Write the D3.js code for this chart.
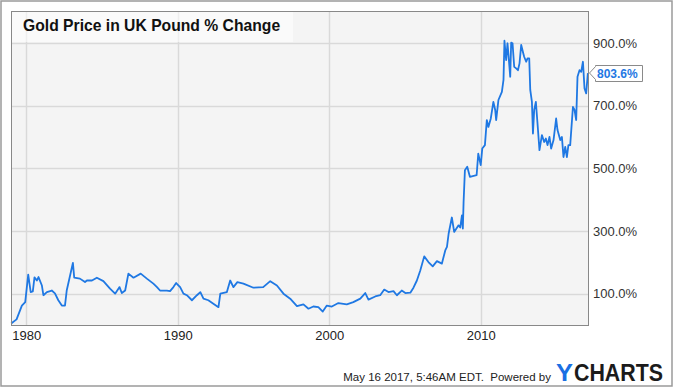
<!DOCTYPE html>
<html>
<head>
<meta charset="utf-8">
<script src="https://cdn.jsdelivr.net/npm/d3@7"></script>
<style>
  body { margin: 0; background: #fff; }
  svg { display: block; font-family: "Liberation Sans", Arial, sans-serif; }
</style>
</head>
<body>
<svg width="674" height="389"></svg>
<script>
// data (% change of gold price in GBP)
var dates = [
  "1979-01-05","1979-05-15","1979-09-20","1979-12-10","1980-02-20","1980-04-20","1980-06-10","1980-07-20",
  "1980-09-15","1980-10-25","1981-01-15","1981-02-20","1981-05-15","1981-09-10","1981-11-25","1982-02-15",
  "1982-05-10","1982-07-25","1982-09-05","1983-02-01","1983-03-05","1983-07-20","1983-11-20","1984-01-05",
  "1984-05-05","1984-09-01","1985-02-05","1985-07-15","1985-11-15","1986-03-01","1986-04-25","1986-07-15",
  "1986-10-01","1987-02-01","1987-07-25","1987-12-20","1988-05-25","1988-08-20","1988-11-01","1989-04-15",
  "1989-07-01","1989-09-20","1989-11-25","1990-03-01","1990-05-20","1990-08-10","1990-12-10","1991-04-10",
  "1991-07-01","1991-09-15","1992-01-10","1992-05-10","1992-09-10","1992-10-25","1993-04-01","1993-06-20",
  "1993-09-05","1993-12-10","1994-05-05","1995-01-01","1995-08-25","1996-02-10","1996-07-20","1996-12-25",
  "1997-06-05","1997-11-15","1998-04-20","1998-08-20","1998-12-15","1999-04-15","1999-07-30","1999-11-05",
  "2000-03-05","2000-08-10","2001-03-01","2001-08-05","2002-01-20","2002-05-20","2002-08-05","2003-01-15",
  "2003-05-15","2003-08-20","2003-11-30","2004-03-30","2004-06-20","2004-10-15","2005-01-10","2005-05-10",
  "2005-07-25","2005-10-15","2006-01-05","2006-04-10","2006-07-20","2006-11-01","2007-02-10","2007-06-10",
  "2007-08-30","2007-10-10","2007-11-20","2008-02-05","2008-04-01","2008-07-15","2008-08-25","2008-10-05",
  "2008-10-27","2008-11-14","2008-12-16","2009-02-10","2009-04-15","2009-09-24","2009-11-03","2010-01-01",
  "2010-02-07","2010-04-12","2010-05-28","2010-07-05","2010-09-01","2010-11-02","2010-12-16","2011-01-08",
  "2011-03-04","2011-05-26","2011-07-04","2011-07-27","2011-09-06","2011-10-08","2011-11-02","2011-12-13",
  "2012-01-05","2012-02-07","2012-03-18","2012-05-04","2012-06-16","2012-07-24","2012-09-03","2012-10-13",
  "2012-11-13","2013-01-01","2013-02-02","2013-03-15","2013-04-09","2013-05-19","2013-06-13","2013-07-13",
  "2013-08-22","2013-10-01","2013-11-17","2014-01-15","2014-03-10","2014-04-20","2014-05-30","2014-07-16",
  "2014-08-26","2014-10-22","2014-12-24","2015-01-26","2015-04-02","2015-05-12","2015-06-19","2015-07-31",
  "2015-09-09","2015-10-16","2015-11-28","2016-02-02","2016-03-12","2016-04-20","2016-05-22","2016-07-09",
  "2016-08-19","2016-09-30","2016-11-07","2016-12-17","2017-01-27"
];
var pctChange = [
  5, 18, 62, 73, 161, 105, 107, 152,
  142, 153, 126, 95, 105, 110, 101, 79,
  62, 62, 110, 198, 151, 148, 137, 142,
  142, 151, 140, 116, 100, 121, 102, 110,
  164, 151, 164, 148, 132, 121, 110, 110,
  108, 121, 134, 121, 100, 95, 79, 95,
  105, 84, 79, 68, 57, 100, 105, 142,
  121, 137, 132, 119, 121, 140, 126, 100,
  84, 60, 66, 52, 59, 57, 43, 62,
  59, 70, 66, 73, 84, 102, 81, 91,
  95, 113, 105, 108, 95, 110, 102, 103,
  119, 142, 174, 219, 201, 187, 204, 196,
  238, 249, 292, 343, 297, 318, 311, 350,
  308, 393, 494, 505, 473, 478, 547, 510,
  563, 574, 654, 632, 659, 712, 686, 654,
  718, 744, 782, 907, 845, 899, 861, 792,
  901, 899, 824, 819, 813, 835, 894, 872,
  856, 840, 851, 851, 750, 712, 611, 686,
  712, 643, 558, 606, 584, 595, 574, 600,
  563, 590, 659, 622, 590, 600, 536, 568,
  536, 574, 574, 696, 686, 654, 792, 813,
  808, 840, 755, 739, 803.6
];
var yTicks = [100, 300, 500, 700, 900];
var xTickYears = [1980, 1990, 2000, 2010];
var title = "Gold Price in UK Pound % Change";
var footer = "May 16 2017, 5:46AM EDT.  Powered by";

var parse = d3.timeParse("%Y-%m-%d");
var data = dates.map(function(d, i) { return { date: parse(d), value: pctChange[i] }; });

var svg = d3.select("svg");
var plotLeft = 11, plotRight = 588, plotTop = 11, plotBottom = 325;

// outer frame
svg.append("rect")
  .attr("x", 1).attr("y", 1).attr("width", 671).attr("height", 385)
  .attr("fill", "#fff").attr("stroke", "#9a9a9a").attr("stroke-width", 1.5);

var x = d3.scaleTime()
  .domain([parse("1979-01-01"), parse("2017-01-30")])
  .range([plotLeft, plotRight]);
var y = d3.scaleLinear()
  .domain([0, 1002])
  .range([plotBottom, plotTop]);

// plot background
svg.append("rect")
  .attr("x", plotLeft).attr("y", plotTop)
  .attr("width", plotRight - plotLeft).attr("height", plotBottom - plotTop)
  .attr("fill", "#f4f4f4");

// gridlines
svg.append("g").selectAll("line")
  .data(yTicks).enter().append("line")
  .attr("x1", plotLeft).attr("x2", plotRight)
  .attr("y1", function(d) { return Math.round(y(d)) + 0.5; })
  .attr("y2", function(d) { return Math.round(y(d)) + 0.5; })
  .attr("stroke", "#d9d9d9").attr("stroke-width", 1.5);

svg.append("g").selectAll("line")
  .data(xTickYears).enter().append("line")
  .attr("x1", function(d) { return Math.round(x(new Date(d, 0, 1))) + 0.5; })
  .attr("x2", function(d) { return Math.round(x(new Date(d, 0, 1))) + 0.5; })
  .attr("y1", plotTop).attr("y2", plotBottom)
  .attr("stroke", "#d9d9d9").attr("stroke-width", 1.5);

// title box
svg.append("rect")
  .attr("x", plotLeft + 1).attr("y", plotTop + 1).attr("width", 281).attr("height", 30)
  .attr("fill", "#fff").attr("opacity", 0.55);

// the line
var line = d3.line()
  .x(function(d) { return x(d.date); })
  .y(function(d) { return y(d.value); });

svg.append("path")
  .datum(data)
  .attr("d", line)
  .attr("fill", "none")
  .attr("stroke", "#1f78e3")
  .attr("stroke-width", 1.8)
  .attr("stroke-linejoin", "round");

// plot border
svg.append("rect")
  .attr("x", plotLeft + 0.5).attr("y", plotTop + 0.5)
  .attr("width", plotRight - plotLeft).attr("height", plotBottom - plotTop)
  .attr("fill", "none").attr("stroke", "#888").attr("stroke-width", 1);

svg.append("text")
  .attr("x", 23).attr("y", 31)
  .attr("font-size", 15.7).attr("font-weight", "bold").attr("fill", "#111")
  .text(title);

// axes
var yAxis = d3.axisRight(y).tickValues(yTicks).tickSize(0).tickPadding(5)
  .tickFormat(function(d) { return d3.format(".1f")(d) + "%"; });
svg.append("g")
  .attr("transform", "translate(" + plotRight + ",0)")
  .call(yAxis)
  .call(function(g) { g.select(".domain").remove(); })
  .selectAll("text")
  .attr("font-size", 13).attr("fill", "#333").attr("font-family", "Liberation Sans, Arial, sans-serif");

var xAxis = d3.axisBottom(x)
  .tickValues(xTickYears.map(function(d) { return new Date(d, 0, 1); }))
  .tickSize(0).tickPadding(6)
  .tickFormat(d3.timeFormat("%Y"));
svg.append("g")
  .attr("transform", "translate(0," + plotBottom + ")")
  .call(xAxis)
  .call(function(g) { g.select(".domain").remove(); })
  .selectAll("text")
  .attr("font-size", 13).attr("fill", "#222").attr("font-family", "Liberation Sans, Arial, sans-serif");

// last value label
var last = data[data.length - 1];
var ly = Math.round(y(last.value));
var lab = svg.append("g").attr("transform", "translate(" + (plotRight + 1) + "," + ly + ")");
lab.append("path")
  .attr("d", "M0.5,0 L6.5,-6.5 L6.5,-7.5 L53.5,-7.5 L53.5,8.5 L6.5,8.5 L6.5,6.5 Z")
  .attr("fill", "#fff").attr("stroke", "#8a8a8a").attr("stroke-width", 1);
lab.append("text")
  .attr("x", 8).attr("y", 5)
  .attr("font-size", 12).attr("font-weight", "bold").attr("fill", "#1f78e3")
  .text(d3.format(".1f")(last.value) + "%");

// footer
svg.append("text")
  .attr("x", 551).attr("y", 381)
  .attr("text-anchor", "end")
  .attr("font-size", 11.5).attr("fill", "#222")
  .attr("xml:space", "preserve")
  .text(footer);
svg.append("text")
  .attr("x", 556).attr("y", 381)
  .attr("font-size", 23).attr("font-weight", "bold").attr("fill", "#1a6fe3")
  .attr("textLength", 17).attr("lengthAdjust", "spacingAndGlyphs")
  .text("Y");
svg.append("text")
  .attr("x", 574).attr("y", 381)
  .attr("font-size", 23).attr("font-weight", "bold").attr("fill", "#1b1b1b")
  .attr("textLength", 89).attr("lengthAdjust", "spacingAndGlyphs")
  .text("CHARTS");
</script>
</body>
</html>
